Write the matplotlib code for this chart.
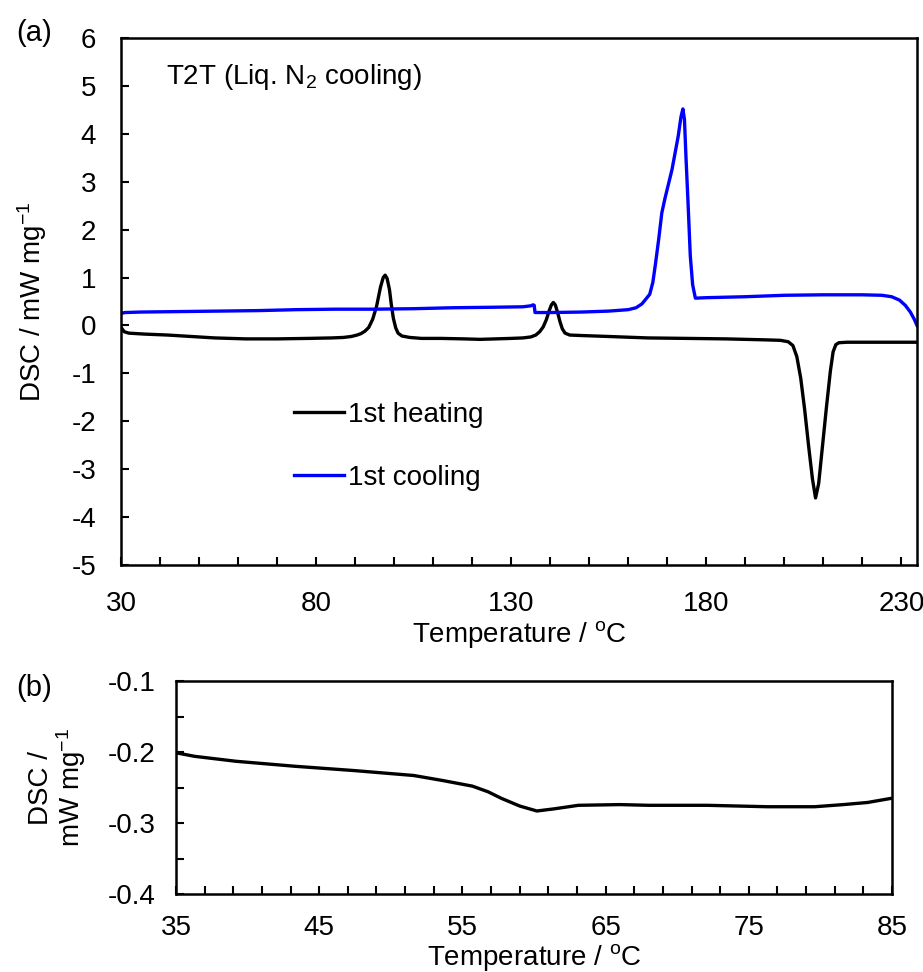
import numpy as np
import matplotlib
matplotlib.use('Agg')
import matplotlib.pyplot as plt
from matplotlib.ticker import MultipleLocator, FormatStrFormatter

plt.rcParams['font.family'] = ['Liberation Sans', 'DejaVu Sans']
plt.rcParams['mathtext.fontset'] = 'custom'
plt.rcParams['mathtext.rm'] = 'Liberation Sans'
plt.rcParams['mathtext.default'] = 'regular'
plt.rcParams['axes.unicode_minus'] = False

# 1st heating run (temperature in C, DSC in mW/mg)
heat_temp = [30.2, 30.8, 32, 36, 42, 48, 54, 58, 62, 70,
             78, 84, 87, 89, 90.5, 91.5, 92.5, 93.5, 94.5, 95.5,
             96.5, 97.2, 97.7, 98.2, 98.8, 99.3, 99.8, 100.4, 101, 102,
             104, 107, 112, 118, 122, 126, 130, 133, 135, 136.3,
             137.3, 138.2, 139, 139.7, 140.3, 140.8, 141.3, 141.9, 142.5, 143.1,
             143.8, 145, 148, 155, 165, 175, 185, 195, 199, 201,
             202.2, 203.2, 204.2, 205.2, 206.2, 207.2, 208, 208.8, 209.8, 210.8,
             211.8, 212.5, 213.2, 214, 216, 225, 234]
heat_dsc = [-0.06, -0.13, -0.16, -0.18, -0.2, -0.23, -0.26, -0.27, -0.28, -0.28,
            -0.27, -0.26, -0.25, -0.23, -0.2, -0.17, -0.12, -0.04, 0.13, 0.4,
            0.8, 1.0, 1.05, 0.98, 0.75, 0.42, 0.15, -0.05, -0.16, -0.22,
            -0.25, -0.27, -0.27, -0.28, -0.29, -0.28, -0.27, -0.26, -0.24, -0.2,
            -0.13, -0.03, 0.12, 0.3, 0.43, 0.48, 0.43, 0.27, 0.08, -0.07,
            -0.16, -0.2, -0.21, -0.23, -0.26, -0.27, -0.28, -0.3, -0.31, -0.34,
            -0.42, -0.65, -1.1, -1.75, -2.5, -3.2, -3.6, -3.3, -2.5, -1.7,
            -0.95, -0.55, -0.4, -0.36, -0.35, -0.35, -0.35]

# 1st cooling run
cool_temp = [30, 31, 35, 45, 55, 65, 75, 85, 95, 105,
             115, 125, 133, 135, 135.6, 135.9, 136.1, 140, 148, 155,
             160, 162, 163.5, 164.5, 165.5, 166.3, 167, 167.8, 168.6, 169.4,
             170.3, 171.2, 172, 172.8, 173.5, 174, 174.4, 174.8, 175.3, 175.9,
             176.5, 177.2, 180, 190, 200, 210, 220, 225, 227.5, 229.5,
             231, 232.3, 233.3, 234]
cool_dsc = [0.25, 0.27, 0.28, 0.29, 0.3, 0.31, 0.33, 0.34, 0.34, 0.35,
            0.37, 0.38, 0.39, 0.41, 0.43, 0.42, 0.27, 0.27, 0.28, 0.3,
            0.33, 0.37, 0.45, 0.55, 0.65, 0.9, 1.3, 1.8, 2.35, 2.65,
            2.95, 3.25, 3.6, 3.95, 4.35, 4.52, 4.3, 3.5, 2.6, 1.45,
            0.85, 0.57, 0.58, 0.6, 0.63, 0.64, 0.64, 0.63, 0.6, 0.53,
            0.42, 0.28, 0.13, 0.0]

# enlarged view of the heating curve around the glass transition
zoom_temp = [35, 36.3, 39.2, 43.3, 47.4, 51.6, 53.6, 55.7, 56.8, 57.7,
             59, 60.2, 61.4, 63.1, 66, 68, 72.1, 76.3, 79.6, 81.6,
             83.3, 85]
zoom_dsc = [-0.201, -0.206, -0.213, -0.220, -0.226, -0.233, -0.240, -0.248, -0.256, -0.265,
            -0.276, -0.283, -0.280, -0.275, -0.274, -0.275, -0.275, -0.277, -0.277, -0.274,
            -0.271, -0.265]

top_xticks = [30, 80, 130, 180, 230]
bottom_xticks = [35, 45, 55, 65, 75, 85]

fs = 20
fig = plt.figure(figsize=(9.23, 9.72), dpi=100)
ax1 = fig.add_axes([0.1311, 0.4187, 0.8624, 0.5422])
ax2 = fig.add_axes([0.1907, 0.0802, 0.7757, 0.2191])

ax1.plot(heat_temp, heat_dsc, color='black', lw=2.4, label='1st heating')
ax1.plot(cool_temp, cool_dsc, color='#0000ff', lw=2.4, label='1st cooling')
ax1.set_xlim(30, 234)
ax1.set_ylim(-5, 6)
ax1.set_xticks(top_xticks)
ax1.xaxis.set_minor_locator(MultipleLocator(10))
ax1.yaxis.set_major_locator(MultipleLocator(1))
ax1.tick_params(axis='x', which='both', direction='in', length=6, width=1.5,
                labelsize=fs, pad=19)
ax1.tick_params(axis='y', which='both', direction='in', length=6, width=1.5,
                labelsize=fs, pad=18)
ax1.set_xlabel('Temperature / $^{o}$C', fontsize=fs, labelpad=1)
ax1.set_ylabel('DSC / mW mg$^{-1}$', fontsize=fs, labelpad=16)
ax1.text(0.057, 0.912, 'T2T (Liq. N$_2$ cooling)', transform=ax1.transAxes,
         fontsize=fs)
ax1.legend(loc='upper left', bbox_to_anchor=(0.217, 0.31), frameon=False,
           fontsize=fs, borderpad=0, borderaxespad=0, handlelength=1.8,
           handletextpad=0.15, labelspacing=1.35)

ax2.plot(zoom_temp, zoom_dsc, color='black', lw=2.4)
ax2.set_xlim(35, 85)
ax2.set_ylim(-0.4, -0.1)
ax2.set_xticks(bottom_xticks)
ax2.xaxis.set_minor_locator(MultipleLocator(2, offset=1))
ax2.yaxis.set_major_locator(MultipleLocator(0.1))
ax2.yaxis.set_minor_locator(MultipleLocator(0.05))
ax2.yaxis.set_major_formatter(FormatStrFormatter('%.1f'))
ax2.tick_params(axis='x', which='both', direction='in', length=6, width=1.5,
                labelsize=fs, pad=15)
ax2.tick_params(axis='y', which='both', direction='in', length=6, width=1.5,
                labelsize=fs, pad=15)
ax2.set_xlabel('Temperature / $^{o}$C', fontsize=fs, labelpad=1)
ax2.set_ylabel('DSC /\nmW mg$^{-1}$', fontsize=fs, labelpad=14, linespacing=1.0)

for ax in (ax1, ax2):
    for s in ax.spines.values():
        s.set_linewidth(1.8)

fig.text(0.018, 0.966, '(a)', fontsize=fs + 1, ha='left', va='center')
fig.text(0.018, 0.292, '(b)', fontsize=fs + 1, ha='left', va='center')

fig.savefig('out.png', dpi=100)
